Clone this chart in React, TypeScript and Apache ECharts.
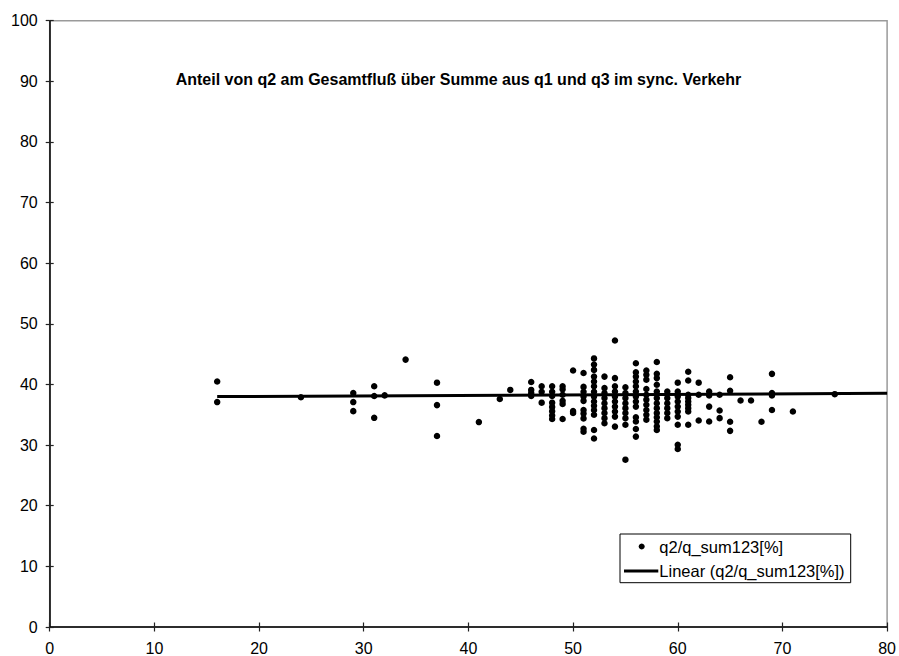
import React, { useEffect, useRef } from "react";
import * as echarts from "echarts";

const titleText = "Anteil von q2 am Gesamtfluß über Summe aus q1 und q3 im sync. Verkehr";
const scatterName = "q2/q_sum123[%]";
const trendName = "Linear (q2/q_sum123[%])";

// x positions (columns) and the y values measured at each of them
const xColumns = [16, 24, 29, 31, 32, 34, 37, 41, 43, 44, 46, 47, 48, 49, 50, 51, 52, 53, 54, 55, 56, 57, 58, 59, 60, 61, 62, 63, 64, 65, 66, 67, 68, 69, 71, 75];
const yColumns = [
  [40.5, 37.1],
  [37.9],
  [38.6, 37.1, 35.6],
  [39.7, 38.1, 34.5],
  [38.2],
  [44.1],
  [40.3, 36.6, 31.5],
  [33.8],
  [37.6],
  [39.1],
  [40.4, 39.1, 38.6, 38.1],
  [39.7, 38.8, 37.0],
  [39.7, 38.8, 38.1, 37.0, 36.3, 35.6, 34.9, 34.3],
  [39.7, 39.2, 38.3, 37.3, 36.8, 34.3],
  [42.3, 35.6, 35.3],
  [41.9, 39.6, 38.8, 38.0, 37.3, 35.8, 35.2, 34.4, 32.7, 32.2],
  [44.3, 43.3, 42.4, 41.3, 40.5, 39.7, 38.8, 38.0, 37.2, 36.5, 35.8, 35.0, 32.5, 31.1],
  [41.3, 39.4, 38.6, 37.75, 36.9, 36.1, 35.3, 34.45, 33.6],
  [47.25, 41.05, 39.7, 38.85, 38.0, 37.2, 36.35, 35.55, 34.7, 33.05],
  [39.55, 38.6, 37.75, 36.9, 36.1, 35.3, 34.45, 33.35, 27.6],
  [43.5, 42.0, 41.3, 40.5, 39.7, 38.85, 38.0, 37.2, 36.35, 34.6, 33.9, 32.65, 31.4],
  [42.3, 41.6, 40.8, 39.25, 38.3, 37.5, 36.65, 35.8, 35.0, 34.2],
  [43.7, 41.75, 41.05, 39.95, 38.85, 37.75, 36.9, 36.1, 35.3, 34.6, 33.9, 33.1, 32.5],
  [38.85, 37.75, 36.9, 36.1, 35.3, 34.45],
  [40.3, 38.85, 38.0, 37.2, 36.35, 35.55, 34.7, 33.35, 30.05, 29.35],
  [42.1, 40.65, 38.3, 37.75, 37.2, 36.65, 36.1, 35.55, 33.35],
  [40.3, 38.3, 34.05],
  [38.85, 38.2, 36.35, 33.9],
  [38.3, 35.7, 34.45],
  [41.2, 38.95, 33.85, 32.35],
  [37.35],
  [37.35],
  [33.85],
  [41.75, 38.6, 38.2, 35.8],
  [35.55],
  [38.4],
];

// linear trend line end points
const trendX = [16, 80];
const trendY = [38.0, 38.55];

const xTicks = [0, 10, 20, 30, 40, 50, 60, 70, 80];
const yTicks = [0, 10, 20, 30, 40, 50, 60, 70, 80, 90, 100];

const FONT = "'Liberation Sans', Arial, Helvetica, sans-serif";

export default function App() {
  const ref = useRef<HTMLDivElement>(null);

  useEffect(() => {
    if (!ref.current) return;
    const chart = echarts.init(ref.current, undefined, { renderer: "svg" });

    const scatterData: number[][] = [];
    xColumns.forEach((x, i) => {
      yColumns[i].forEach((y) => scatterData.push([x, y]));
    });
    const trendData = trendX.map((x, i) => [x, trendY[i]]);

    const gridL = 49.7;
    const gridR = 887.7;
    const gridT = 20.7;
    const gridB = 627.3;

    const xMin = xTicks[0];
    const xMax = xTicks[xTicks.length - 1];
    const yMin = yTicks[0];
    const yMax = yTicks[yTicks.length - 1];

    const tickColor = "#222";

    chart.setOption({
      animation: false,
      backgroundColor: "#fff",
      textStyle: { fontFamily: FONT },
      grid: {
        left: gridL,
        top: gridT,
        width: gridR - gridL,
        height: gridB - gridT,
        show: true,
        borderColor: "#9a9a9a",
        borderWidth: 1.5,
        backgroundColor: "transparent",
      },
      xAxis: [
        {
          type: "value",
          min: xMin,
          max: xMax,
          interval: 10,
          splitLine: { show: false },
          axisLine: { show: true, lineStyle: { color: "#000", width: 1.5 } },
          axisTick: { show: true, length: 4.5, lineStyle: { color: tickColor, width: 1.2 } },
          axisLabel: { color: "#000", fontSize: 16, fontFamily: FONT, margin: 13 },
          z: 5,
        },
        {
          type: "value",
          min: xMin,
          max: xMax,
          interval: 10,
          position: "bottom",
          splitLine: { show: false },
          axisLine: { show: false },
          axisTick: { show: true, inside: true, length: 4.5, lineStyle: { color: tickColor, width: 1.2 } },
          axisLabel: { show: false },
          z: 5,
        },
      ],
      yAxis: [
        {
          type: "value",
          min: yMin,
          max: yMax,
          interval: 10,
          splitLine: { show: false },
          axisLine: { show: true, lineStyle: { color: "#000", width: 1.5 } },
          axisTick: { show: true, length: 4, lineStyle: { color: tickColor, width: 1.2 } },
          axisLabel: { color: "#000", fontSize: 16, fontFamily: FONT, margin: 12 },
          z: 5,
        },
        {
          type: "value",
          min: yMin,
          max: yMax,
          interval: 10,
          position: "left",
          splitLine: { show: false },
          axisLine: { show: false },
          axisTick: { show: true, inside: true, length: 4, lineStyle: { color: tickColor, width: 1.2 } },
          axisLabel: { show: false },
          z: 5,
        },
      ],
      series: [
        {
          name: scatterName,
          type: "scatter",
          data: scatterData,
          symbol: "circle",
          symbolSize: 6.5,
          itemStyle: { color: "#000", opacity: 1 },
          z: 3,
        },
        {
          name: trendName,
          type: "line",
          data: trendData,
          showSymbol: false,
          symbol: "none",
          lineStyle: { color: "#000", width: 3 },
          z: 4,
        },
      ],
      graphic: [
        {
          type: "text",
          x: 175.7,
          y: 79.5,
          style: {
            text: titleText,
            font: `bold 16px ${FONT}`,
            fill: "#000",
            textAlign: "left",
            textVerticalAlign: "middle",
            verticalAlign: "middle",
          },
          z: 10,
        },
        {
          type: "rect",
          shape: { x: 620, y: 534, width: 230.7, height: 48.7 },
          style: { fill: "#fff", stroke: "#000", lineWidth: 1 },
          z: 10,
        },
        {
          type: "circle",
          shape: { cx: 641.7, cy: 546.5, r: 3 },
          style: { fill: "#000" },
          z: 11,
        },
        {
          type: "text",
          x: 659.3,
          y: 546.5,
          style: {
            text: scatterName,
            font: `16.5px ${FONT}`,
            fill: "#000",
            textVerticalAlign: "middle",
            verticalAlign: "middle",
          },
          z: 11,
        },
        {
          type: "line",
          shape: { x1: 624, y1: 571, x2: 658.3, y2: 571 },
          style: { stroke: "#000", lineWidth: 3 },
          z: 11,
        },
        {
          type: "text",
          x: 659.3,
          y: 571,
          style: {
            text: trendName,
            font: `16.5px ${FONT}`,
            fill: "#000",
            textVerticalAlign: "middle",
            verticalAlign: "middle",
          },
          z: 11,
        },
      ],
    });

    return () => chart.dispose();
  }, []);

  return (
    <div
      ref={ref}
      style={{ position: "absolute", left: 0, top: 0, width: 899, height: 656, background: "#fff" }}
    />
  );
}
